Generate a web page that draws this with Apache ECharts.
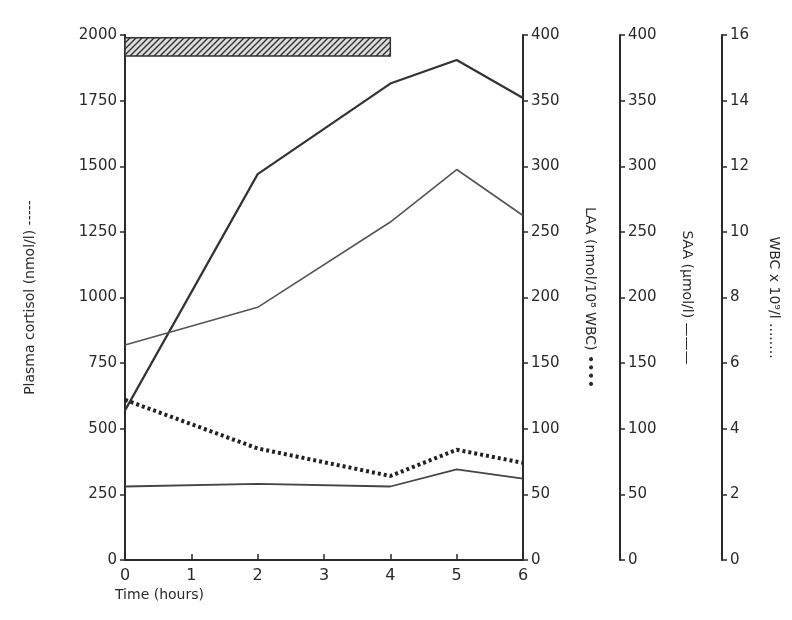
<!DOCTYPE html>
<html>
<head>
<meta charset="utf-8">
<script src="https://cdn.jsdelivr.net/npm/echarts@6/dist/echarts.min.js"></script>
<style>html,body{margin:0;background:#fff}#chart{width:792px;height:620px}</style>
</head>
<body>
<div id="chart"></div>
<script>
// data
var hours = [0, 2, 4, 5, 6];
var cortisol = [570, 1470, 1815, 1905, 1760];
var laa = [122, 85, 64, 84, 74];
var saa = [56, 58, 56, 69, 62];
var wbc = [6.55, 7.7, 10.3, 11.9, 10.5];
var infusion = [0, 4]; // hatched bar, hours

function pairs(xs, ys) {
	return xs.map(function(x, i) { return [x, ys[i]]; });
}

// hatch pattern
var pc = document.createElement('canvas');
pc.width = 6; pc.height = 6;
var g = pc.getContext('2d');
g.fillStyle = '#ddd'; g.fillRect(0, 0, 6, 6);
g.strokeStyle = '#333'; g.lineWidth = 1.4;
g.beginPath(); g.moveTo(0, 6); g.lineTo(6, 0); g.moveTo(-3, 3); g.lineTo(3, -3); g.moveTo(3, 9); g.lineTo(9, 3); g.stroke();

var ink = '#2a2a2a';
var font = 'DejaVu Sans';
function yAx(o) {
	return Object.assign({
		type: 'value', min: 0, splitLine: { show: false },
		axisLine: { show: true, lineStyle: { color: ink, width: 2 } },
		axisTick: { show: true, length: 5, lineStyle: { color: ink, width: 1.5 } },
		axisLabel: { color: ink, fontSize: 15, fontFamily: font, formatter: function(v) { return String(v); } },
		nameLocation: 'middle', nameTextStyle: { color: ink, fontSize: 14, fontFamily: font }
	}, o);
}

var chart = echarts.init(document.getElementById('chart'));
chart.setOption({
	animation: false,
	grid: { left: 125, right: 269, top: 35, bottom: 60 },
	xAxis: {
		type: 'value', min: 0, max: 6, interval: 1, splitLine: { show: false },
		axisLine: { lineStyle: { color: ink, width: 2 } },
		axisTick: { show: true, inside: true, length: 6, lineStyle: { color: ink, width: 1.5 } },
		axisLabel: { color: ink, fontSize: 16, fontFamily: font, margin: 8 }
	},
	yAxis: [
		yAx({ position: 'left', max: 2000, interval: 250, name: 'Plasma cortisol (nmol/l) -----', nameRotate: 90, nameGap: 88 }),
		yAx({ position: 'right', max: 400, interval: 50, name: 'LAA (nmol/10⁸ WBC) ••••', nameRotate: -90, nameGap: 60 }),
		yAx({ position: 'right', offset: 97, max: 400, interval: 50, name: 'SAA (μmol/l) ———', nameRotate: -90, nameGap: 60 }),
		yAx({ position: 'right', offset: 199, max: 16, interval: 2, name: 'WBC x 10⁹/l ........', nameRotate: -90, nameGap: 45 })
	],
	graphic: [{ type: 'text', left: 115, top: 588, style: { text: 'Time (hours)', font: '14px ' + font, fill: ink } }],
	series: [
		{ type: 'line', yAxisIndex: 0, data: pairs(hours, cortisol), symbol: 'none', lineStyle: { color: '#333', width: 2.2 },
		  markArea: { silent: true, itemStyle: { color: { image: pc, repeat: 'repeat' }, borderColor: '#333', borderWidth: 1.5 },
		    data: [[{ coord: [infusion[0], 1920] }, { coord: [infusion[1], 1990] }]] } },
		{ type: 'line', yAxisIndex: 1, data: pairs(hours, laa), symbol: 'none', lineStyle: { color: '#222', width: 4, type: [3, 3] } },
		{ type: 'line', yAxisIndex: 2, data: pairs(hours, saa), symbol: 'none', lineStyle: { color: '#444', width: 1.8 } },
		{ type: 'line', yAxisIndex: 3, data: pairs(hours, wbc), symbol: 'none', lineStyle: { color: '#555', width: 1.6 } }
	]
});
</script>
</body>
</html>
